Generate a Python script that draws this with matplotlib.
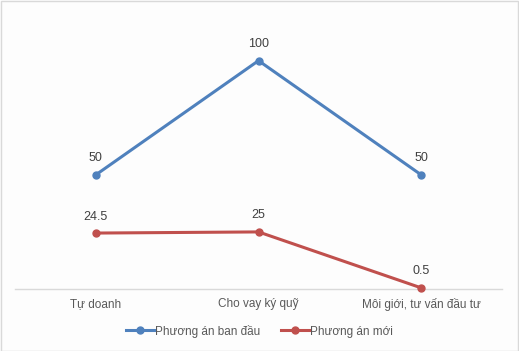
import matplotlib
matplotlib.use("Agg")
import matplotlib.pyplot as plt
from matplotlib.patches import Rectangle

categories = ["Tự doanh", "Cho vay ký quỹ", "Môi giới, tư vấn đầu tư"]
series_names = ["Phương án ban đầu", "Phương án mới"]
ban_dau = [50, 100, 50]
moi = [24.5, 25, 0.5]
labels_ban_dau = ["50", "100", "50"]
labels_moi = ["24.5", "25", "0.5"]
colors = ["#4F81BD", "#C0504D"]

plt.rcParams['font.family'] = ['Liberation Sans', 'DejaVu Sans']

W, H = 519, 351
fig = plt.figure(figsize=(W / 100, H / 100), dpi=100)
fig.patch.set_facecolor("#FDFDFD")
fig.patches.append(Rectangle((0.5 / W, 0.5 / H), 1 - 1.5 / W, 1 - 1.5 / H, transform=fig.transFigure,
                             facecolor="none", edgecolor="#D9D9D9", linewidth=1, zorder=-1))

ax = fig.add_axes([14.5 / W, (H - 289) / H, (502.5 - 14.5) / W, (289 - 15) / H])
ax.set_facecolor("none")
x = list(range(len(categories)))
for vals, labs, c, name in [(ban_dau, labels_ban_dau, colors[0], series_names[0]),
                            (moi, labels_moi, colors[1], series_names[1])]:
    ax.plot(x, vals, color=c, linewidth=2.2, marker="o", markersize=5, label=name, clip_on=False, zorder=3)
    for xi, v, l in zip(x, vals, labs):
        ax.annotate(l, (xi, v), xytext=(0, 7.5), textcoords="offset points", ha="center", va="bottom",
                    fontsize=9, color="#404040")

ax.set_xlim(-0.5, 2.5)
ax.set_ylim(0, 120)
ax.set_yticks([])
ax.set_xticks(x)
ax.set_xticklabels(categories, fontsize=8.5, color="#595959")
ax.tick_params(axis="x", length=0, pad=6.5)
for s in ["top", "right", "left"]:
    ax.spines[s].set_visible(False)
ax.spines["bottom"].set_color("#D9D9D9")
ax.spines["bottom"].set_linewidth(1)

leg = fig.legend(loc="center", bbox_to_anchor=(0.5, (H - 331) / H), ncol=2, frameon=False,
                 fontsize=8.5, handlelength=2.4, columnspacing=1.7, handletextpad=0.1, labelcolor="#595959")

fig.savefig("out.png", dpi=100, facecolor=fig.get_facecolor())
